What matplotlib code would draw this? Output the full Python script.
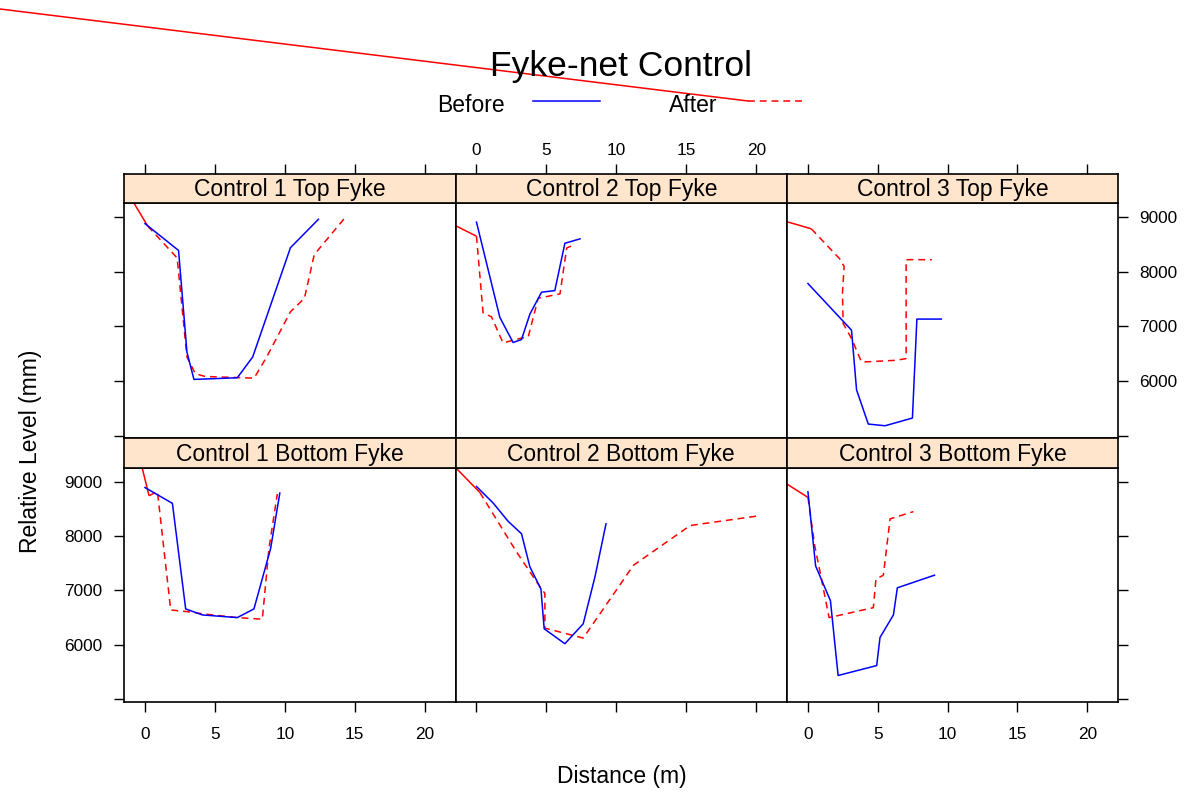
import matplotlib
matplotlib.use("Agg")
import matplotlib.pyplot as plt
from matplotlib.lines import Line2D
from matplotlib.ticker import FuncFormatter

plt.rcParams['font.family'] = ['Liberation Sans', 'DejaVu Sans']

# ---------------- data ----------------
panel_titles = ["Control 1 Top Fyke", "Control 2 Top Fyke", "Control 3 Top Fyke",
                "Control 1 Bottom Fyke", "Control 2 Bottom Fyke", "Control 3 Bottom Fyke"]

c1_top_before_x = [0.0, 2.4, 3.0, 3.5, 6.6, 7.7, 10.4, 12.4]
c1_top_before_y = [8880, 8390, 6530, 6030, 6060, 6440, 8440, 8960]
c1_top_after_x = [0.2, 2.3, 3.0, 3.6, 4.3, 7.8, 8.7, 10.4, 11.4, 12.1, 14.3]
c1_top_after_y = [8834, 8252, 6440, 6134, 6084, 6053, 6440, 7268, 7515, 8313, 8989]

c2_top_before_x = [0.0, 1.67, 2.62, 3.22, 3.82, 4.65, 5.6, 6.32, 7.4]
c2_top_before_y = [8908, 7165, 6705, 6760, 7226, 7626, 7655, 8521, 8602]
c2_top_after_x = [0.0, 0.47, 1.07, 1.9, 3.1, 3.7, 4.41, 5.25, 5.97, 6.45, 7.04]
c2_top_after_y = [8650, 7250, 7176, 6698, 6778, 6808, 7515, 7558, 7595, 8436, 8497]

c3_top_before_x = [0.0, 3.12, 3.48, 4.32, 5.52, 7.48, 7.8, 9.55]
c3_top_before_y = [7784, 6931, 5839, 5213, 5182, 5323, 7134, 7134]
c3_top_after_x = [0.24, 2.28, 2.59, 2.47, 2.52, 3.12, 3.84, 6.24, 7.03, 7.03, 8.87]
c3_top_after_y = [8786, 8234, 8097, 7607, 7055, 6778, 6347, 6379, 6410, 8221, 8221]

c1_bot_before_x = [0.0, 1.96, 2.91, 4.1, 6.6, 7.79, 8.98, 9.64]
c1_bot_before_y = [8890, 8599, 6659, 6549, 6500, 6659, 7766, 8788]
c1_bot_after_x = [0.29, 0.89, 1.84, 3.03, 4.21, 6.6, 8.39, 8.86, 9.46]
c1_bot_after_y = [8739, 8818, 6640, 6609, 6567, 6500, 6471, 7766, 8770]

c2_bot_before_x = [0.0, 1.19, 2.26, 3.22, 3.82, 4.61, 4.84, 6.32, 7.63, 8.47, 9.26]
c2_bot_before_y = [8909, 8606, 8270, 8040, 7431, 7024, 6294, 6020, 6385, 7248, 8223]
c2_bot_after_x = [0.24, 1.67, 2.87, 4.54, 4.89, 4.89, 7.63, 11.22, 12.41, 15.28, 20.29]
c2_bot_after_y = [8799, 8204, 7704, 7065, 6945, 6306, 6124, 7461, 7675, 8192, 8374]

c3_bot_before_x = [0.0, 0.55, 1.61, 2.16, 4.92, 5.16, 6.12, 6.4, 9.06]
c3_bot_before_y = [8812, 7449, 6810, 5436, 5618, 6135, 6549, 7047, 7279]
c3_bot_after_x = [0.0, 0.48, 0.96, 1.51, 4.68, 4.87, 5.4, 5.88, 7.55]
c3_bot_after_y = [8708, 7827, 7219, 6500, 6682, 7206, 7279, 8314, 8447]

# solid red lead-in segments drawn into each panel before the "After" series
lead_in_x = [-1.5, -1.6, -1.6, -0.4, -1.6, -1.6]
lead_in_y = [9560, 8856, 8922, 9460, 9285, 8970]

x_ticks = [0, 5, 10, 15, 20]
y_ticks = [5000, 6000, 7000, 8000, 9000]

before_xs = [c1_top_before_x, c2_top_before_x, c3_top_before_x,
             c1_bot_before_x, c2_bot_before_x, c3_bot_before_x]
before_ys = [c1_top_before_y, c2_top_before_y, c3_top_before_y,
             c1_bot_before_y, c2_bot_before_y, c3_bot_before_y]
after_xs = [c1_top_after_x, c2_top_after_x, c3_top_after_x,
            c1_bot_after_x, c2_bot_after_x, c3_bot_after_x]
after_ys = [c1_top_after_y, c2_top_after_y, c3_top_after_y,
            c1_bot_after_y, c2_bot_after_y, c3_bot_after_y]

# ---------------- layout ----------------
W, H = 1192, 798
fig = plt.figure(figsize=(W / 100, H / 100), dpi=100)


def rect(x0, y0, x1, y1):
    return [x0 / W, 1 - y1 / H, (x1 - x0) / W, (y1 - y0) / H]


cols = [(124, 455.5), (455.5, 787), (787, 1118)]
rows = [((174, 203), (203, 438)), ((438, 467.5), (467.5, 701.5))]
XLIM = (-1.5, 22.2)
YLIM = (4958, 9258)
BLUE = '#0000FF'
RED = '#FF0000'
STRIP = '#FFE5CC'
TICK_FS = 12.4
TEXT_FS = 16.5
SPINE_LW = 1.2
TICK_LEN = 7.5

yfmt = FuncFormatter(lambda v, p: '' if int(round(v)) == 5000 else f'{int(round(v))}')

for i, name in enumerate(panel_titles):
    r, c = divmod(i, 3)
    (sy0, sy1), (py0, py1) = rows[r]
    x0, x1 = cols[c]

    ax = fig.add_axes(rect(x0, py0, x1, py1))
    ax.set_xlim(*XLIM)
    ax.set_ylim(*YLIM)
    ax.set_xticks(x_ticks)
    ax.set_yticks(y_ticks)
    ax.yaxis.set_major_formatter(yfmt)
    for s in ax.spines.values():
        s.set_linewidth(SPINE_LW)
    ax.tick_params(direction='out', length=TICK_LEN, width=1.0, labelsize=TICK_FS)
    ax.tick_params(axis='x', top=False, labeltop=False,
                   bottom=(r == 1), labelbottom=(r == 1 and c != 1), pad=11)
    ax.tick_params(axis='y', left=(c == 0), labelleft=(c == 0 and r == 1),
                   right=(c == 2), labelright=(c == 2 and r == 0), pad=8)

    # lead-in red solid segment, then the series
    ax.plot([lead_in_x[i], after_xs[i][0]], [lead_in_y[i], after_ys[i][0]],
            color=RED, lw=1.1, solid_capstyle='butt')
    ax.plot(after_xs[i], after_ys[i], color=RED, lw=1.1, linestyle=(0, (4.5, 3.2)))
    ax.plot(before_xs[i], before_ys[i], color=BLUE, lw=1.1)

    # strip
    sax = fig.add_axes(rect(x0, sy0, x1, sy1))
    sax.set_facecolor(STRIP)
    sax.set_xlim(*XLIM)
    sax.set_ylim(0, 1)
    sax.set_yticks([])
    for s in sax.spines.values():
        s.set_linewidth(SPINE_LW)
    if r == 0:
        sax.set_xticks(x_ticks)
        sax.tick_params(axis='x', direction='out', length=TICK_LEN, width=1.0,
                        bottom=False, labelbottom=False, top=True,
                        labeltop=(c == 1), labelsize=TICK_FS, pad=4)
    else:
        sax.set_xticks([])
    sax.text(0.5, 0.45, name, transform=sax.transAxes, ha='center', va='center',
             fontsize=TEXT_FS)

# title and legend
fig.text(621 / W, 1 - 76 / H, "Fyke-net Control", ha='center', va='baseline', fontsize=25.5)
fig.text(471 / W, 1 - 111.5 / H, "Before", ha='center', va='baseline', fontsize=TEXT_FS)
fig.text(693 / W, 1 - 111.5 / H, "After", ha='center', va='baseline', fontsize=TEXT_FS)
fig.add_artist(Line2D([533 / W, 600 / W], [1 - 101 / H, 1 - 101 / H], color=BLUE, lw=1.1))
fig.add_artist(Line2D([748 / W, 806 / W], [1 - 101 / H, 1 - 101 / H], color=RED, lw=1.1,
                      linestyle=(0, (4.5, 3.2))))
fig.add_artist(Line2D([0 / W, 748 / W], [1 - 9 / H, 1 - 101 / H], color=RED, lw=1.1))

# axis labels
fig.text(622 / W, 1 - 776 / H, "Distance (m)", ha='center', va='center', fontsize=TEXT_FS)
fig.text(31 / W, 1 - 451 / H, "Relative Level (mm)", ha='center', va='center',
         rotation=90, fontsize=TEXT_FS)

fig.savefig("out.png", dpi=100)
